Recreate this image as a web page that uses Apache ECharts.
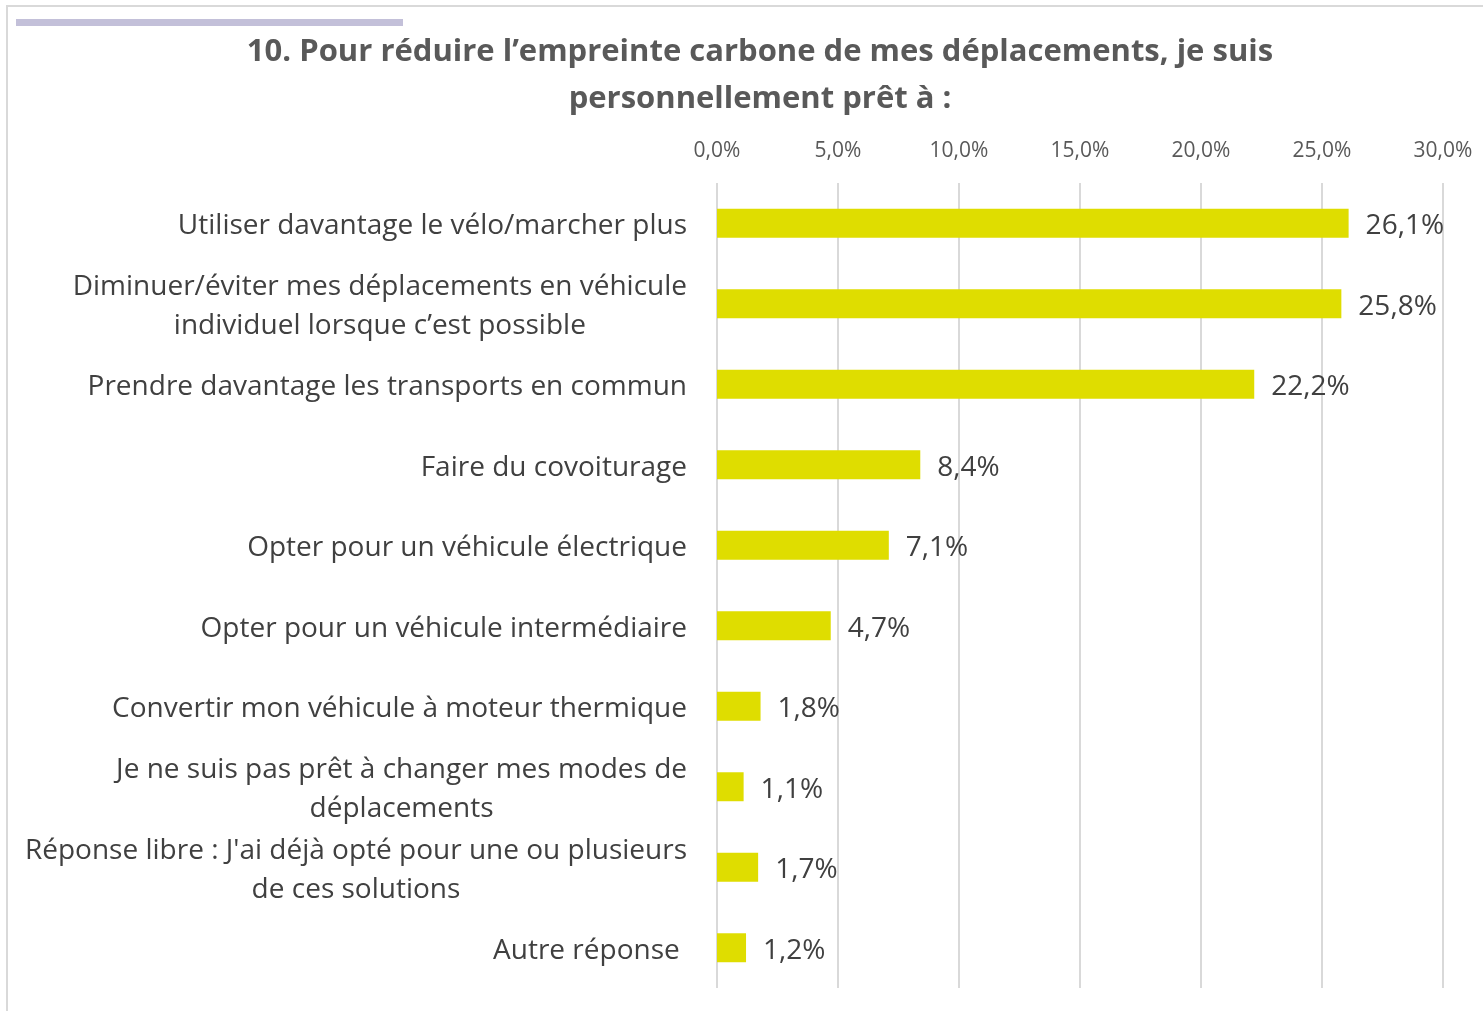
<!DOCTYPE html>
<html>
<head>
<meta charset="utf-8">
<script src="https://cdn.jsdelivr.net/npm/echarts@6/dist/echarts.min.js"></script>
<style>
  html, body { margin: 0; padding: 0; background: #fff; }
  #chart { width: 1483px; height: 1011px; }
</style>
</head>
<body>
<div id="chart"></div>
<script>
// data
const categories = [
  'Utiliser davantage le vélo/marcher plus',
  'Diminuer/éviter mes déplacements en véhicule\nindividuel lorsque c’est possible',
  'Prendre davantage les transports en commun',
  'Faire du covoiturage',
  'Opter pour un véhicule électrique',
  'Opter pour un véhicule intermédiaire',
  'Convertir mon véhicule à moteur thermique',
  'Je ne suis pas prêt à changer mes modes de\ndéplacements',
  'Réponse libre : J\'ai déjà opté pour une ou plusieurs\nde ces solutions',
  'Autre réponse '
]
const values = [26.1, 25.8, 22.2, 8.4, 7.1, 4.7, 1.8, 1.1, 1.7, 1.2]
const axisTicks = [0, 5, 10, 15, 20, 25, 30]

const fontFamily = '"Open Sans", sans-serif'
const pct = v => v.toFixed(1).replace('.', ',') + '%'

const chart = echarts.init(document.getElementById('chart'))

chart.setOption({
  animation: false,
  textStyle: { fontFamily: fontFamily },
  title: {
    text: '10. Pour réduire l’empreinte carbone de mes déplacements, je suis\npersonnellement prêt à :',
    left: 755,
    top: 24,
    textAlign: 'center',
    textStyle: {
      fontFamily: fontFamily,
      fontSize: 31,
      fontWeight: 'bold',
      color: '#595959',
      lineHeight: 47
    }
  },
  graphic: [
    {
      type: 'rect',
      shape: { x: 7, y: 6, width: 1500, height: 1030 },
      style: { fill: 'none', stroke: '#D9D9D9', lineWidth: 2 },
      silent: true
    },
    {
      type: 'rect',
      shape: { x: 16, y: 19, width: 387, height: 7 },
      style: { fill: '#C3C0D9' },
      silent: true
    }
  ],
  grid: {
    left: 717,
    right: 40,
    top: 183,
    bottom: 23,
    containLabel: false
  },
  xAxis: {
    type: 'value',
    position: 'top',
    min: axisTicks[0],
    max: axisTicks[axisTicks.length - 1],
    interval: 5,
    axisLine: { show: false },
    axisTick: { show: false },
    axisLabel: {
      margin: 21,
      fontSize: 21,
      color: '#595959',
      formatter: v => pct(v)
    },
    splitLine: {
      lineStyle: { color: '#D9D9D9', width: 2 }
    }
  },
  yAxis: {
    type: 'category',
    inverse: true,
    data: categories,
    axisLine: { show: false },
    axisTick: { show: false },
    axisLabel: {
      margin: 30,
      align: 'right',
      color: '#404040',
      fontSize: 28,
      lineHeight: 39,
      padding: [6, 0, 0, 0],
      formatter: v => v.split('\n').map(s => '{c|' + s + '}').join('\n'),
      rich: {
        c: { align: 'center', fontSize: 28, lineHeight: 39, color: '#404040', fontFamily: fontFamily }
      }
    }
  },
  series: [
    {
      type: 'bar',
      data: values,
      barWidth: '36%',
      itemStyle: { color: '#DFDD00' },
      label: {
        show: true,
        position: 'right',
        distance: 17,
        offset: [0, 3],
        fontSize: 28,
        color: '#404040',
        formatter: p => pct(p.value)
      }
    }
  ]
})
</script>
</body>
</html>
